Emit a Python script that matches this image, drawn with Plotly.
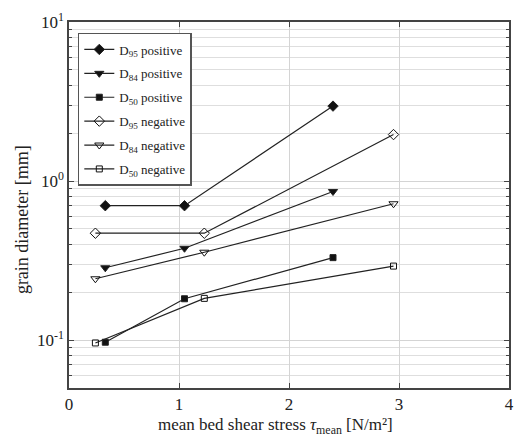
import plotly.graph_objects as go

# Data
names = ["D<sub>95</sub> positive", "D<sub>84</sub> positive", "D<sub>50</sub> positive",
         "D<sub>95</sub> negative", "D<sub>84</sub> negative", "D<sub>50</sub> negative"]
x_pos = [0.33, 1.05, 2.40]
x_neg = [0.24, 1.23, 2.95]
d95_pos = [0.70, 0.70, 2.96]
d84_pos = [0.285, 0.378, 0.86]
d50_pos = [0.097, 0.182, 0.33]
d95_neg = [0.47, 0.47, 1.96]
d84_neg = [0.243, 0.357, 0.72]
d50_neg = [0.096, 0.183, 0.292]

series = [
    (names[0], x_pos, d95_pos, "diamond", 8),
    (names[1], x_pos, d84_pos, "triangle-down", 8),
    (names[2], x_pos, d50_pos, "square", 6),
    (names[3], x_neg, d95_neg, "diamond-open", 8),
    (names[4], x_neg, d84_neg, "triangle-down-open", 8),
    (names[5], x_neg, d50_neg, "square-open", 6),
]

y_tickvals = [0.1, 1, 10]
y_ticktext = ["10<sup>-1</sup>", "10<sup>0</sup>", "10<sup>1</sup>"]
y_minor = [0.05, 0.06, 0.07, 0.08, 0.09, 0.2, 0.3, 0.4, 0.5, 0.6, 0.7, 0.8, 0.9,
           2, 3, 4, 5, 6, 7, 8, 9]

fig = go.Figure()
for i, (name, xs, ys, sym, sz) in enumerate(series):
    fig.add_trace(go.Scatter(
        x=xs, y=ys, name=name, mode="lines+markers", legendgroup=f"g{i}",
        line=dict(color="#222222", width=1.2),
        marker=dict(symbol=sym, size=sz, color="#111111",
                    line=dict(color="#222222", width=1)),
    ))

font = "Liberation Serif"
fig.update_layout(
    width=524, height=444,
    margin=dict(l=69, r=10, t=19, b=56),
    paper_bgcolor="white", plot_bgcolor="white",
    font=dict(family=font, size=14, color="#222222"),
    showlegend=True,
    legend=dict(x=0.02, y=0.97, xanchor="left", yanchor="top",
                bordercolor="#555555", borderwidth=1.5, bgcolor="white",
                font=dict(family=font, size=13, color="#222222"),
                tracegroupgap=4, itemwidth=30),
    annotations=[
        dict(text="mean bed shear stress <i>τ</i><sub>mean</sub> [N/m²]",
             xref="paper", yref="paper", x=0.47, y=-0.105, xanchor="center",
             yanchor="middle", showarrow=False, font=dict(family=font, size=17)),
        dict(text="grain diameter [mm]", textangle=-90,
             xref="paper", yref="paper", x=-0.108, y=0.46, xanchor="center",
             yanchor="middle", showarrow=False, font=dict(family=font, size=18)),
    ],
)
fig.update_xaxes(
    range=[0, 4], tickvals=[0, 1, 2, 3, 4],
    showline=True, linecolor="#444444", linewidth=1.5, mirror="allticks",
    ticks="inside", ticklen=5, tickcolor="#444444",
    showgrid=True, gridcolor="#d4d4d4", gridwidth=1, zeroline=False,
    tickfont=dict(family=font, size=17),
)
fig.update_yaxes(
    type="log", range=[-1.30103, 1],
    tickvals=y_tickvals, ticktext=y_ticktext,
    showline=True, linecolor="#444444", linewidth=1.5, mirror="allticks",
    ticks="inside", ticklen=5, tickcolor="#444444",
    showgrid=True, gridcolor="#d4d4d4", gridwidth=1, zeroline=False,
    minor=dict(tickmode="array", tickvals=y_minor, ticks="inside", ticklen=3,
               tickcolor="#444444", showgrid=True, gridcolor="#dedede", gridwidth=1),
    tickfont=dict(family=font, size=17),
)

fig.write_html("out.html")
